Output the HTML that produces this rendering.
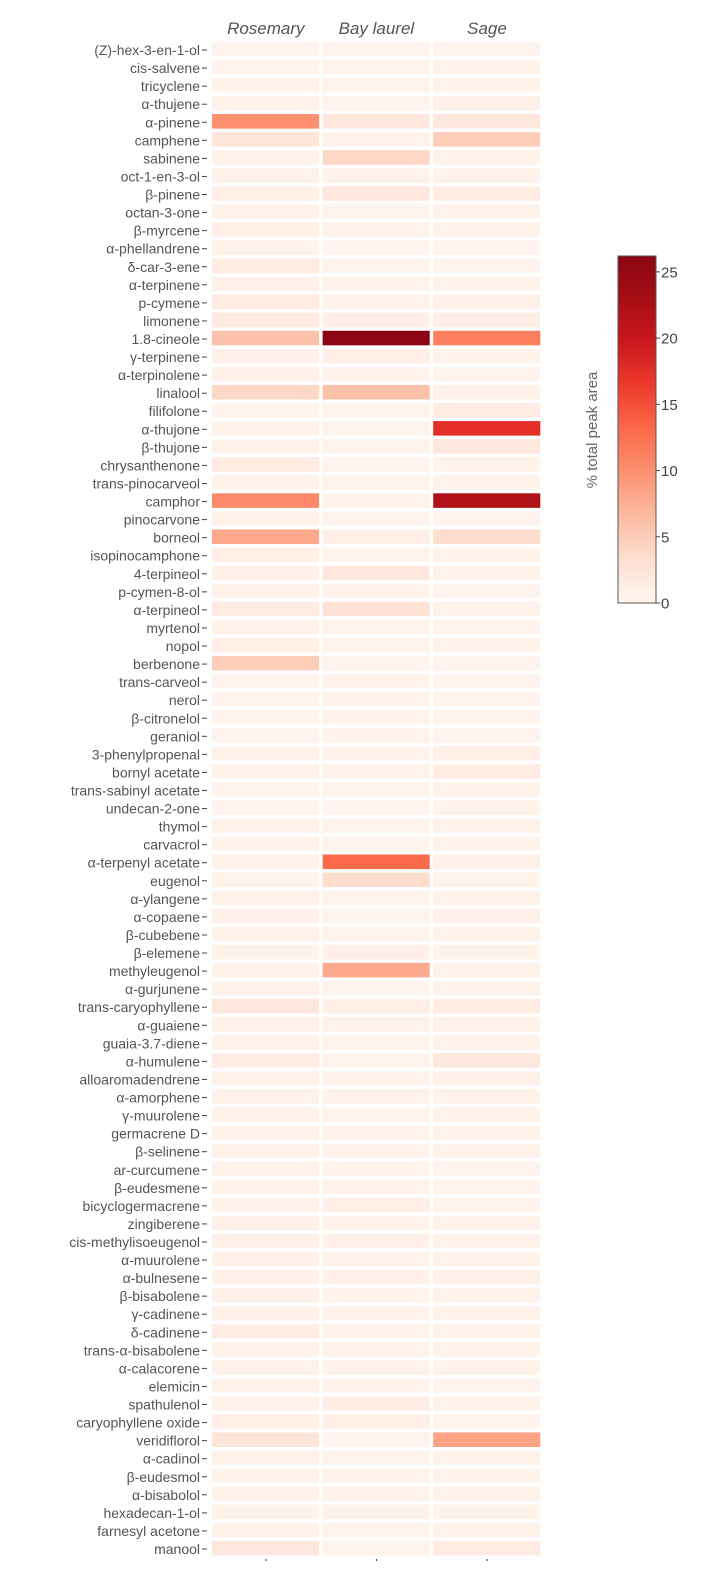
<!DOCTYPE html>
<html><head><meta charset="utf-8"><style>
html,body{margin:0;padding:0;background:#fff;}
svg text{font-family:"Liberation Sans","DejaVu Sans",sans-serif;}
</style></head><body>
<svg id="chart" width="701" height="1582" viewBox="0 0 701 1582" xmlns="http://www.w3.org/2000/svg">
<defs>
<linearGradient id="cbg" x1="0" y1="1" x2="0" y2="0">
<stop offset="0" stop-color="rgb(255,245,240)"/>
<stop offset="0.125" stop-color="rgb(254,224,210)"/>
<stop offset="0.25" stop-color="rgb(252,187,161)"/>
<stop offset="0.375" stop-color="rgb(252,146,114)"/>
<stop offset="0.5" stop-color="rgb(251,106,74)"/>
<stop offset="0.625" stop-color="rgb(239,59,44)"/>
<stop offset="0.75" stop-color="rgb(203,24,29)"/>
<stop offset="0.875" stop-color="rgb(165,15,21)"/>
<stop offset="1" stop-color="rgb(140,5,18)"/>
</linearGradient>
</defs>
<g id="cells"></g>
<g id="ylabels"></g>
<g id="xlabels"></g>
<g id="colorbar">
<rect x="618" y="256" width="38" height="347" fill="url(#cbg)" stroke="#555" stroke-width="1"/>
<text transform="translate(597,430) rotate(-90)" text-anchor="middle" font-size="15" fill="#666">% total peak area</text>
</g>
</svg>
<script>
const columns = ["Rosemary","Bay laurel","Sage"];
const compounds = ["(Z)-hex-3-en-1-ol","cis-salvene","tricyclene","α-thujene","α-pinene","camphene","sabinene","oct-1-en-3-ol","β-pinene","octan-3-one","β-myrcene","α-phellandrene","δ-car-3-ene","α-terpinene","p-cymene","limonene","1.8-cineole","γ-terpinene","α-terpinolene","linalool","filifolone","α-thujone","β-thujone","chrysanthenone","trans-pinocarveol","camphor","pinocarvone","borneol","isopinocamphone","4-terpineol","p-cymen-8-ol","α-terpineol","myrtenol","nopol","berbenone","trans-carveol","nerol","β-citronelol","geraniol","3-phenylpropenal","bornyl acetate","trans-sabinyl acetate","undecan-2-one","thymol","carvacrol","α-terpenyl acetate","eugenol","α-ylangene","α-copaene","β-cubebene","β-elemene","methyleugenol","α-gurjunene","trans-caryophyllene","α-guaiene","guaia-3.7-diene","α-humulene","alloaromadendrene","α-amorphene","γ-muurolene","germacrene D","β-selinene","ar-curcumene","β-eudesmene","bicyclogermacrene","zingiberene","cis-methylisoeugenol","α-muurolene","α-bulnesene","β-bisabolene","γ-cadinene","δ-cadinene","trans-α-bisabolene","α-calacorene","elemicin","spathulenol","caryophyllene oxide","veridiflorol","α-cadinol","β-eudesmol","α-bisabolol","hexadecan-1-ol","farnesyl acetone","manool"];
const rosemary = [0.3,0.3,0.5,0.5,10,2.5,0.5,0.5,1,0.5,1,0.5,1.5,0.8,1.5,1.5,6,0.8,0.8,4,0.3,0.5,0.5,1.5,0.5,10.5,0.5,8,1,0.8,0.5,1.5,0.5,1,5,0.3,0.3,0.3,0.3,0.5,0.5,0.3,0.3,0.5,0.5,0.5,0.5,0.5,0.8,0.5,0.5,0.5,0.5,2,0.8,0.5,1.2,0.5,0.5,0.5,0.5,0.5,0.5,0.5,0.5,0.8,0.8,0.8,0.8,0.8,0.8,1.2,0.5,0.5,0.5,0.5,1,2.5,0.5,0.5,0.5,0.5,0.5,2];
const bayLaurel = [0.3,0.3,0.3,0.3,2,0.5,4,0.5,2,0.3,0.5,0.3,0.3,0.5,0.5,1,26.5,1,0.5,6,0.3,0.3,0.3,0.3,0.3,0.5,0.3,1,0.3,2,0.5,3,0.3,0.3,0.3,0.5,0.5,0.5,0.5,0.5,0.5,0.3,0.3,0.3,0.3,13,3.5,0.3,0.3,0.3,1,8,0.3,1,0.5,0.3,0.3,0.5,0.5,0.3,0.5,0.5,0.5,0.5,1,0.5,0.8,0.5,0.8,0.5,0.5,0.5,0.5,0.5,0.5,1.2,1,0.3,0.3,0.5,0.5,0.5,0.3,0.3];
const sage = [0.3,0.5,0.5,0.8,2,5,0.5,0.5,1.5,0.5,0.5,0.3,0.3,0.5,0.8,1,11.5,0.5,0.3,0.8,1.5,17.5,2,0.5,0.5,22,0.3,3.5,0.5,0.5,0.3,0.5,0.3,0.5,0.3,0.3,0.3,0.3,0.3,1,1.5,0.5,0.5,0.5,0.5,0.8,0.5,0.5,0.8,0.5,0.5,0.5,0.5,1.5,0.8,0.5,2,0.8,0.5,0.5,0.5,0.5,0.3,0.3,0.3,0.5,0.5,0.5,0.8,0.5,0.5,0.5,0.5,0.5,0.3,0.5,0.3,8.5,0.5,0.5,0.5,0.5,0.5,1.5];
const cbTicks = [0,5,10,15,20,25];

const series = [rosemary, bayLaurel, sage];
const zMax = 26.2;
const plotX0 = 210.5, colPitch = 110.6, rowY0 = 40.0, rowPitch = 18.06;
const cbTop = 256, cbBottom = 603;
function xScale(i){ return plotX0 + i*colPitch; }
function yScale(j){ return rowY0 + j*rowPitch; }
function cbScale(v){ return cbBottom - (v/zMax)*(cbBottom-cbTop); }
const stops = [[0,[255,245,240]],[0.125,[254,224,210]],[0.25,[252,187,161]],[0.375,[252,146,114]],[0.5,[251,106,74]],[0.625,[239,59,44]],[0.75,[203,24,29]],[0.875,[165,15,21]],[1,[140,5,18]]];
function color(v){
  let t = Math.max(0, Math.min(1, v/zMax));
  for (let k=1;k<stops.length;k++){
    if (t<=stops[k][0]){
      const a=stops[k-1], b=stops[k], f=(t-a[0])/(b[0]-a[0]);
      const c=a[1].map((x,i)=>Math.round(x+(b[1][i]-x)*f));
      return 'rgb('+c.join(',')+')';
    }
  }
  return 'rgb(140,5,18)';
}
const NS = 'http://www.w3.org/2000/svg';
const gCells = document.getElementById('cells');
const gY = document.getElementById('ylabels');
const gX = document.getElementById('xlabels');
const gCb = document.getElementById('colorbar');
series.forEach((vals, i) => {
  vals.forEach((v, j) => {
    const r = document.createElementNS(NS, 'rect');
    r.setAttribute('x', xScale(i) + 1.5);
    r.setAttribute('y', yScale(j) + 1.8);
    r.setAttribute('width', colPitch - 3.5);
    r.setAttribute('height', rowPitch - 3.5);
    r.setAttribute('fill', color(v));
    
    
    gCells.appendChild(r);
  });
});
compounds.forEach((name, j) => {
  const cy = yScale(j) + rowPitch/2 + 1;
  const t = document.createElementNS(NS, 'text');
  t.setAttribute('x', 200);
  t.setAttribute('y', cy + 5);
  t.setAttribute('text-anchor', 'end');
  t.setAttribute('font-size', '14');
  t.setAttribute('fill', '#555');
  t.textContent = name;
  
  
  gY.appendChild(t);
  const tk = document.createElementNS(NS, 'line');
  tk.setAttribute('x1', 202); tk.setAttribute('x2', 207);
  tk.setAttribute('y1', cy); tk.setAttribute('y2', cy);
  tk.setAttribute('stroke', '#444'); tk.setAttribute('stroke-width', '1');
  
  
  gY.appendChild(tk);
});
columns.forEach((name, i) => {
  const cx = xScale(i) + colPitch/2;
  const t = document.createElementNS(NS, 'text');
  t.setAttribute('x', cx);
  t.setAttribute('y', 34);
  t.setAttribute('text-anchor', 'middle');
  t.setAttribute('font-size', '17');
  t.setAttribute('font-style', 'italic');
  t.setAttribute('fill', '#555');
  t.textContent = name;
  
  
  gX.appendChild(t);
  const d = document.createElementNS(NS, 'rect');
  d.setAttribute('x', cx - 0.5); d.setAttribute('y', 1559);
  d.setAttribute('width', 1); d.setAttribute('height', 2);
  d.setAttribute('fill', '#333');
  
  
  gX.appendChild(d);
});
cbTicks.forEach(v => {
  const y = cbScale(v);
  const tk = document.createElementNS(NS, 'line');
  tk.setAttribute('x1', 656); tk.setAttribute('x2', 660);
  tk.setAttribute('y1', y); tk.setAttribute('y2', y);
  tk.setAttribute('stroke', '#444');
  
  
  gCb.appendChild(tk);
  const t = document.createElementNS(NS, 'text');
  t.setAttribute('x', 661);
  t.setAttribute('y', y + 5.5);
  t.setAttribute('font-size', '15');
  t.setAttribute('fill', '#444');
  t.textContent = v;
  
  
  gCb.appendChild(t);
});
</script>
</body></html>
